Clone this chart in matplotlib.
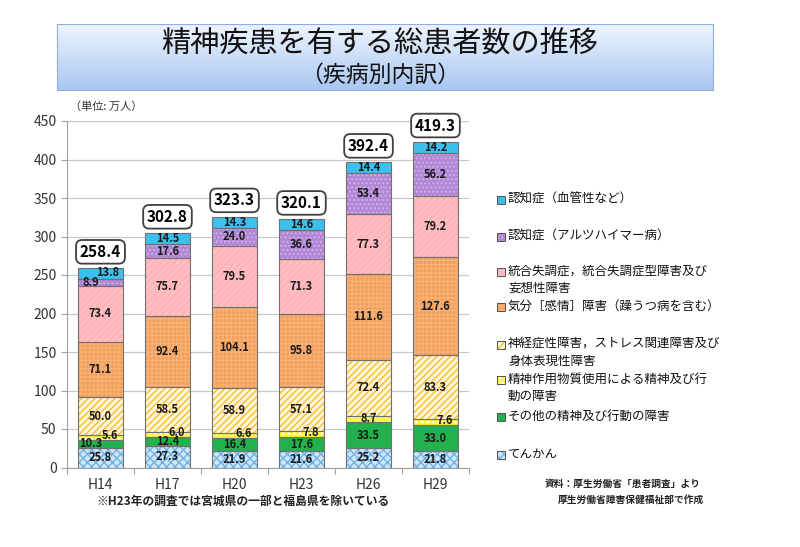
import numpy as np
import matplotlib
matplotlib.use("Agg")
import matplotlib.pyplot as plt
from matplotlib.patches import Rectangle

plt.rcParams['font.family'] = ['Noto Sans CJK JP', 'DejaVu Sans']
plt.rcParams['hatch.linewidth'] = 1.0

# data (万人)
years = ["H14", "H17", "H20", "H23", "H26", "H29"]
tenkan = [25.8, 27.3, 21.9, 21.6, 25.2, 21.8]
sonota = [10.3, 12.4, 16.4, 17.6, 33.5, 33.0]
busshitsu = [5.6, 6.0, 6.6, 7.8, 8.7, 7.6]
shinkei = [50.0, 58.5, 58.9, 57.1, 72.4, 83.3]
kibun = [71.1, 92.4, 104.1, 95.8, 111.6, 127.6]
togo = [73.4, 75.7, 79.5, 71.3, 77.3, 79.2]
alz = [8.9, 17.6, 24.0, 36.6, 53.4, 56.2]
kekkan = [13.8, 14.5, 14.3, 14.6, 14.4, 14.2]
totals = [258.4, 302.8, 323.3, 320.1, 392.4, 419.3]

series = [tenkan, sonota, busshitsu, shinkei, kibun, togo, alz, kekkan]
# (face, hatch colour, hatch)
styles = [
    ("#cfe6f8", "#6fb2e6", "xxxx"),
    ("#22b14c", "#22b14c", None),
    ("#fff34d", "#ffffff", "..."),
    ("#fff6dc", "#f9bd2a", "/////"),
    ("#f59e55", "#f7b27a", "++++"),
    ("#ffb4b8", "#ffc6c9", "/////"),
    ("#b186d4", "#cfb0e8", "...."),
    ("#3cc0ee", "#3cc0ee", None),
]

legend_items = [
    ("認知症（血管性など）", 7, 200),
    ("認知症（アルツハイマー病）", 6, 237),
    ("統合失調症，統合失調症型障害及び\n妄想性障害", 5, 272),
    ("気分［感情］障害（躁うつ病を含む）", 4, 307),
    ("神経症性障害，ストレス関連障害及び\n身体表現性障害", 3, 345),
    ("精神作用物質使用による精神及び行\n動の障害", 2, 380),
    ("その他の精神及び行動の障害", 1, 417),
    ("てんかん", 0, 455),
]

W, H = 800, 547
fig = plt.figure(figsize=(8, 5.47), dpi=100)

# title box
tax = fig.add_axes([57 / W, 1 - 90 / H, 656 / W, 66 / H])
grad = np.linspace(0, 1, 100).reshape(-1, 1)
cmap = matplotlib.colors.LinearSegmentedColormap.from_list("g", ["#eef4fd", "#a9c7f2"])
tax.imshow(grad, aspect="auto", cmap=cmap, extent=[0, 1, 0, 1], origin="upper")
tax.set_xticks([]); tax.set_yticks([])
for s in tax.spines.values():
    s.set_color("#8eaee0")
fig.text(380 / W, 1 - 45 / H, "精神疾患を有する総患者数の推移", ha="center", va="center",
         fontsize=21, color="#111111")
fig.text(380 / W, 1 - 75 / H, "（疾病別内訳）", ha="center", va="center",
         fontsize=16.5, color="#111111")

ax = fig.add_axes([67 / W, 1 - 467.5 / H, 402 / W, 346.5 / H])
x = np.arange(len(years))
bw = 0.66
bottom = np.zeros(len(years))
for k, (vals, (fc, hc, hatch)) in enumerate(zip(series, styles)):
    vals = np.array(vals)
    ax.bar(x, vals, bw, bottom=bottom, color=fc, edgecolor=hc, hatch=hatch,
           linewidth=0, zorder=3)
    ax.bar(x, vals, bw, bottom=bottom, facecolor="none", edgecolor="#707070",
           linewidth=0.8, zorder=4)
    for i, v in enumerate(vals):
        xs = x[i]
        ys = bottom[i] + v / 2
        # small segments: nudge labels like the original
        if k == 2 and v < 8:
            xs += 0.14
            ys += 2.5
        if k == 1 and i == 0:
            xs -= 0.14
        if k == 6 and v < 10:
            xs -= 0.14
        if k == 7 and i == 0:
            xs += 0.1
            ys += 1.0
        ax.text(xs, ys, f"{v:.1f}", ha="center", va="center", fontsize=8,
                fontweight="bold", color="#1a1a1a", zorder=5)
    bottom += vals

for i, t in enumerate(totals):
    ax.annotate(f"{t:.1f}", (x[i], bottom[i]), xytext=(0, 6), textcoords="offset points",
                ha="center", va="bottom", fontsize=11, fontweight="bold", zorder=6,
                bbox=dict(boxstyle="round,pad=0.25,rounding_size=0.4", fc="white",
                          ec="#404040", lw=1.3))

ax.set_xlim(-0.5, len(years) - 0.5)
ax.set_ylim(0, 450)
ax.set_yticks(np.arange(0, 451, 50))
ax.yaxis.grid(True, color="#c8c8c8", linewidth=0.9, zorder=0)
ax.set_xticks(np.arange(-0.5, len(years), 1))
ax.set_xticklabels([])
ax.tick_params(axis="x", length=4, color="#a0a0a0")
ax.tick_params(axis="y", length=4, color="#a0a0a0", labelsize=10, labelcolor="#333333")
for i, yl in enumerate(years):
    ax.text(x[i], -14, yl, ha="center", va="top", fontsize=10, color="#333333")
for s in ["top", "right"]:
    ax.spines[s].set_visible(False)
ax.spines["left"].set_color("#a0a0a0")
ax.spines["bottom"].set_color("#a0a0a0")

fig.text(70 / W, 1 - 107 / H, "（単位: 万人）", ha="left", va="center", fontsize=8, color="#333333")
fig.text(96 / W, 1 - 501 / H, "※H23年の調査では宮城県の一部と福島県を除いている",
         ha="left", va="center", fontsize=8.5, fontweight="bold", color="#222222")
fig.text(545 / W, 1 - 484 / H, "資料：厚生労働省「患者調査」より", ha="left", va="center",
         fontsize=7, fontweight="bold", color="#222222")
fig.text(558 / W, 1 - 500 / H, "厚生労働省障害保健福祉部で作成", ha="left", va="center",
         fontsize=7, fontweight="bold", color="#222222")

# legend
for label, k, ypx in legend_items:
    fc, hc, hatch = styles[k]
    fig.add_artist(Rectangle((497 / W, 1 - (ypx + 4) / H), 8 / W, 8 / H, facecolor=fc,
                             edgecolor=hc, hatch=hatch, linewidth=0, transform=fig.transFigure))
    fig.add_artist(Rectangle((497 / W, 1 - (ypx + 4) / H), 8 / W, 8 / H, facecolor="none",
                             edgecolor="#505050", linewidth=0.7, transform=fig.transFigure))
    fig.text(508 / W, 1 - (ypx - 7) / H, label, ha="left", va="top", fontsize=9,
             color="#111111", linespacing=1.35)

fig.savefig("out.png", dpi=100)
